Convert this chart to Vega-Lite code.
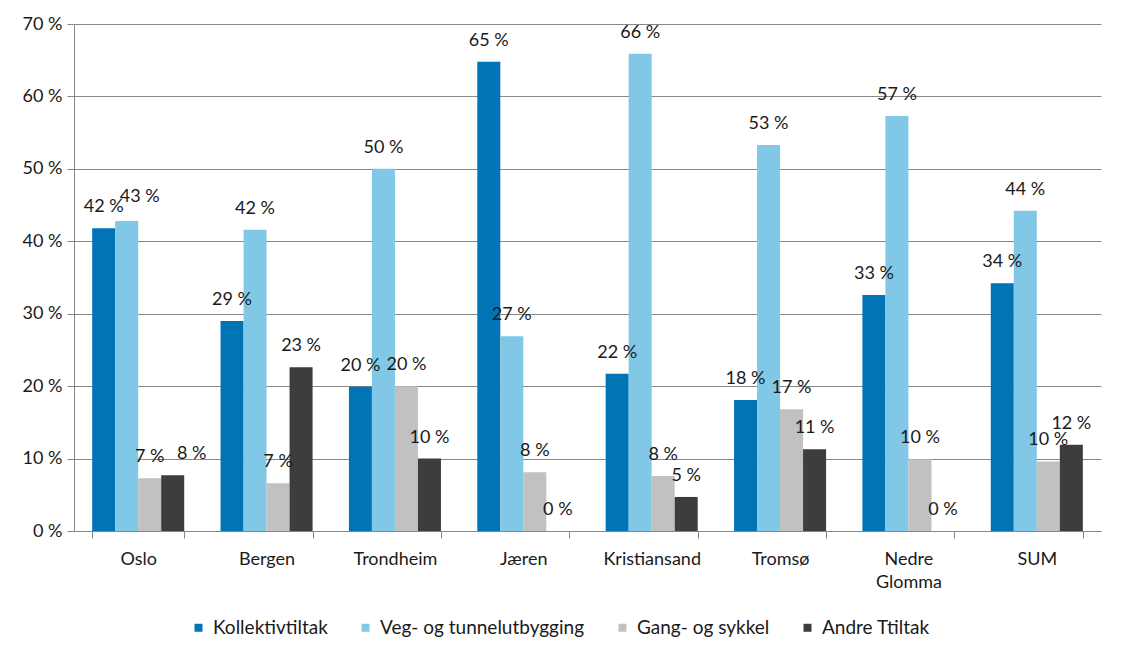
{
  "$schema": "https://vega.github.io/schema/vega-lite/v6.json",
  "autosize": "none",
  "width": 1027,
  "height": 507,
  "padding": {"left": 74, "top": 24, "right": 25, "bottom": 129},
  "background": "white",
  "config": {
    "font": "Lato",
    "view": {"stroke": null},
    "axis": {"labelFont": "Lato", "labelFontSize": 18, "labelColor": "#1a1a1a", "domainColor": "#878787", "tickColor": "#878787", "gridColor": "#878787"},
    "legend": {"labelFont": "Lato", "labelFontSize": 19, "labelColor": "#1a1a1a", "labelLimit": 0}
  },
  "data": {
    "values": [
      {"city": "Oslo", "series": "Kollektivtiltak", "value": 41.8},
      {"city": "Oslo", "series": "Veg- og tunnelutbygging", "value": 42.8},
      {"city": "Oslo", "series": "Gang- og sykkel", "value": 7.3},
      {"city": "Oslo", "series": "Andre Ttiltak", "value": 7.7},
      {"city": "Bergen", "series": "Kollektivtiltak", "value": 29.0},
      {"city": "Bergen", "series": "Veg- og tunnelutbygging", "value": 41.6},
      {"city": "Bergen", "series": "Gang- og sykkel", "value": 6.6},
      {"city": "Bergen", "series": "Andre Ttiltak", "value": 22.6},
      {"city": "Trondheim", "series": "Kollektivtiltak", "value": 19.9},
      {"city": "Trondheim", "series": "Veg- og tunnelutbygging", "value": 50.0},
      {"city": "Trondheim", "series": "Gang- og sykkel", "value": 20.0},
      {"city": "Trondheim", "series": "Andre Ttiltak", "value": 10.0},
      {"city": "Jæren", "series": "Kollektivtiltak", "value": 64.8},
      {"city": "Jæren", "series": "Veg- og tunnelutbygging", "value": 26.9},
      {"city": "Jæren", "series": "Gang- og sykkel", "value": 8.1},
      {"city": "Jæren", "series": "Andre Ttiltak", "value": 0},
      {"city": "Kristiansand", "series": "Kollektivtiltak", "value": 21.7},
      {"city": "Kristiansand", "series": "Veg- og tunnelutbygging", "value": 65.9},
      {"city": "Kristiansand", "series": "Gang- og sykkel", "value": 7.6},
      {"city": "Kristiansand", "series": "Andre Ttiltak", "value": 4.7},
      {"city": "Tromsø", "series": "Kollektivtiltak", "value": 18.1},
      {"city": "Tromsø", "series": "Veg- og tunnelutbygging", "value": 53.3},
      {"city": "Tromsø", "series": "Gang- og sykkel", "value": 16.8},
      {"city": "Tromsø", "series": "Andre Ttiltak", "value": 11.3},
      {"city": "Nedre Glomma", "series": "Kollektivtiltak", "value": 32.6},
      {"city": "Nedre Glomma", "series": "Veg- og tunnelutbygging", "value": 57.3},
      {"city": "Nedre Glomma", "series": "Gang- og sykkel", "value": 9.9},
      {"city": "Nedre Glomma", "series": "Andre Ttiltak", "value": 0},
      {"city": "SUM", "series": "Kollektivtiltak", "value": 34.2},
      {"city": "SUM", "series": "Veg- og tunnelutbygging", "value": 44.2},
      {"city": "SUM", "series": "Gang- og sykkel", "value": 9.6},
      {"city": "SUM", "series": "Andre Ttiltak", "value": 11.9}
    ]
  },
  "transform": [
    {"calculate": "format(datum.value, '.0f') + ' %'", "as": "label"}
  ],
  "encoding": {
    "x": {
      "field": "city", "type": "nominal", "sort": null,
      "scale": {"paddingInner": 0.283, "paddingOuter": 0.1415},
      "axis": {"title": null, "labelAngle": 0, "ticks": true, "tickBand": "extent", "tickSize": 7, "labelPadding": 12, "labelExpr": "split(datum.label, ' ')", "labelLineHeight": 23, "domain": true}
    },
    "xOffset": {"field": "series", "type": "nominal", "sort": ["Kollektivtiltak", "Veg- og tunnelutbygging", "Gang- og sykkel", "Andre Ttiltak"], "scale": {"paddingInner": 0, "paddingOuter": 0}},
    "y": {
      "field": "value", "type": "quantitative",
      "scale": {"domain": [0, 70], "nice": false},
      "axis": {"title": null, "values": [0, 10, 20, 30, 40, 50, 60, 70], "labelExpr": "datum.value + ' %'", "tickSize": 7, "labelPadding": 5, "grid": true}
    }
  },
  "layer": [
    {
      "mark": {"type": "bar"},
      "encoding": {
        "color": {
          "field": "series", "type": "nominal",
          "sort": ["Kollektivtiltak", "Veg- og tunnelutbygging", "Gang- og sykkel", "Andre Ttiltak"],
          "scale": {"domain": ["Kollektivtiltak", "Veg- og tunnelutbygging", "Gang- og sykkel", "Andre Ttiltak"], "range": ["#0074b5", "#80c8e6", "#c0c1c0", "#3c3d3c"]},
          "legend": {"title": null, "orient": "none", "direction": "horizontal", "legendX": 115, "legendY": 594, "symbolType": "square", "symbolSize": 64, "symbolStrokeWidth": 0, "columnPadding": 28, "labelOffset": 5}
        }
      }
    },
    {
      "transform": [{"filter": "!(datum.city == 'Oslo' && (datum.series == 'Veg- og tunnelutbygging' || datum.series == 'Andre Ttiltak'))"}],
      "mark": {"type": "text", "baseline": "middle", "dy": -21, "fontSize": 18, "color": "#1a1a1a"},
      "encoding": {"text": {"field": "label"}}
    },
    {
      "transform": [{"filter": "datum.city == 'Oslo' && datum.series == 'Veg- og tunnelutbygging'"}],
      "mark": {"type": "text", "baseline": "middle", "dy": -24, "dx": 13, "fontSize": 18, "color": "#1a1a1a"},
      "encoding": {"text": {"field": "label"}}
    },
    {
      "transform": [{"filter": "datum.city == 'Oslo' && datum.series == 'Andre Ttiltak'"}],
      "mark": {"type": "text", "baseline": "middle", "dy": -21, "dx": 19, "fontSize": 18, "color": "#1a1a1a"},
      "encoding": {"text": {"field": "label"}}
    }
  ]
}
